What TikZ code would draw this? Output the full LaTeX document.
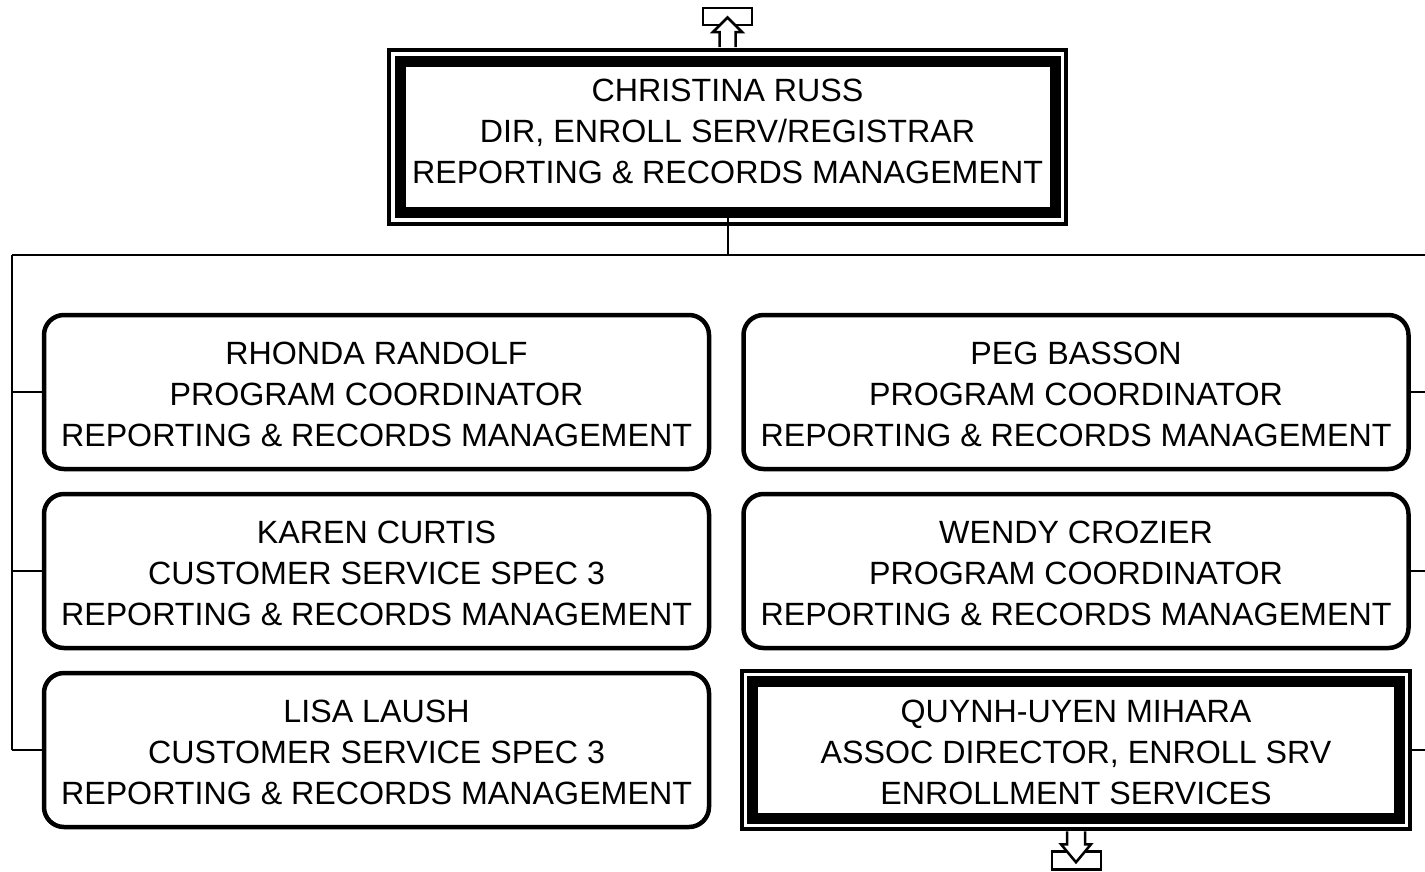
\documentclass[tikz,border=0pt]{standalone}
\usepackage{fontspec}
\setmainfont{Liberation Sans}
\usetikzlibrary{positioning}
\newcommand{\padtop}{\rule{0pt}{28pt}}
\newcommand{\padbot}{\rule[-10.5pt]{0pt}{10.5pt}}

\begin{document}
\begin{tikzpicture}[x=1pt, y=-1pt,
  card/.style={draw, rounded corners=20pt, line width=4.5pt, align=center,
    font=\fontsize{32.2}{41}\selectfont, minimum width=665pt,
    minimum height=154pt, inner sep=0pt},
  headcard/.style={draw, line width=11pt, align=center,
    font=\fontsize{32.2}{41}\selectfont, inner sep=0pt, outer sep=0pt},
  frame/.style={draw, line width=4pt},
  link/.style={line width=2pt},
  tabmark/.style={draw, line width=2.5pt, fill=white, line join=miter}]
  \useasboundingbox (0,0) rectangle (1425,871);

  \node[headcard, minimum width=655pt, minimum height=151.5pt] (russ) at (727.5,136.75)
    {CHRISTINA RUSS\\DIR, ENROLL SERV/REGISTRAR\\REPORTING \& RECORDS MANAGEMENT\padbot};
  \node[card] (randolf) at (376.5,392)
    {\padtop RHONDA RANDOLF\\PROGRAM COORDINATOR\\REPORTING \& RECORDS MANAGEMENT};
  \node[card, below=20.5pt of randolf] (curtis)
    {\padtop KAREN CURTIS\\CUSTOMER SERVICE SPEC 3\\REPORTING \& RECORDS MANAGEMENT};
  \node[card, below=20.5pt of curtis] (laush)
    {\padtop LISA LAUSH\\CUSTOMER SERVICE SPEC 3\\REPORTING \& RECORDS MANAGEMENT};
  \node[card, right=30pt of randolf] (basson)
    {\padtop PEG BASSON\\PROGRAM COORDINATOR\\REPORTING \& RECORDS MANAGEMENT};
  \node[card, below=20.5pt of basson] (crozier)
    {\padtop WENDY CROZIER\\PROGRAM COORDINATOR\\REPORTING \& RECORDS MANAGEMENT};
  \node[headcard, minimum width=646.5pt, minimum height=136.5pt, below=31.5pt of crozier] (mihara)
    {\padtop QUYNH-UYEN MIHARA\\ASSOC DIRECTOR, ENROLL SRV\\ENROLLMENT SERVICES};
  \foreach \n in {russ,mihara}
    \draw[frame] ([shift={(-11,-11)}]\n.north west) rectangle ([shift={(11,11)}]\n.south east);

  \coordinate (busL) at (12,255);
  \coordinate (busR) at (1425,255);
  \draw[link] (russ.south) -- (russ.south |- busL);
  \draw[link] (busL) -- (busR);
  \draw[link] (busL) -- (busL |- laush.west);
  \foreach \n in {randolf,curtis,laush}
    \draw[link] (\n.west) -- (\n.west -| busL);
  \foreach \n in {basson,crozier}
    \draw[link] (\n.east) -- (\n.east -| busR);
  \draw[link] ([xshift=13pt]mihara.east) -- (mihara.east -| busR);

  \coordinate (uptab) at ([yshift=14pt]russ.north);
  \begin{scope}[shift={(uptab)}]
    \draw[tabmark] (-24.5,-39) rectangle (24.5,-22);
    \draw[tabmark] (-8,0) -- (-8,-15) -- (-14.5,-15) -- (0,-29.5) -- (14.5,-15) -- (8,-15) -- (8,0);
  \end{scope}
  \coordinate (downtab) at ([yshift=-13pt]mihara.south);
  \begin{scope}[shift={(downtab)}]
    \draw[tabmark] (-24,20) rectangle (25,38);
    \draw[tabmark] (-9,0) -- (-9,13) -- (-15,13) -- (0,31) -- (15,13) -- (9,13) -- (9,0);
  \end{scope}
\end{tikzpicture}
\end{document}
